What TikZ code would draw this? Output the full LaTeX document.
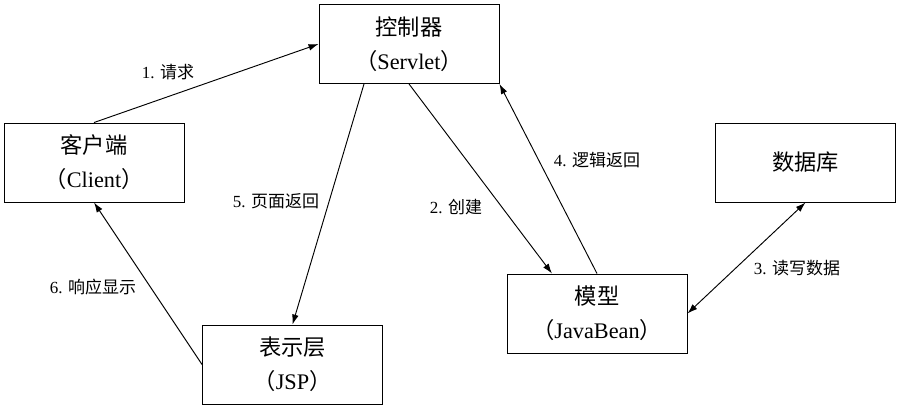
\documentclass[tikz,border=0pt]{standalone}
\usepackage{fontspec}
\setmainfont{Liberation Serif}
\newfontfamily\cjk{Noto Sans CJK SC}
\newcommand{\zh}[1]{{\cjk #1}}
\usetikzlibrary{arrows.meta,positioning}

\begin{document}
\begin{tikzpicture}[
  flow/.style={-{Latex[length=3mm,width=2mm]},line width=0.8pt},
  both/.style={{Latex[length=3mm,width=2mm]}-{Latex[length=3mm,width=2mm]},line width=0.8pt},
  box/.style={draw,line width=0.8pt,minimum width=5.4cm,minimum height=2.37cm,
    align=center,inner sep=0pt,font=\fontsize{19}{29}\selectfont},
  tag/.style={font=\fontsize{14.5}{17}\selectfont}
]
\useasboundingbox (0,0) rectangle (27.06,-12.3);

\node[box] (ctrl) at (12.27,-1.32) {\zh{控制器}\\\zh{（}Servlet\zh{）}};
\node[box] (client) at (2.82,-4.875) {\zh{客户端}\\\zh{（}Client\zh{）}};
\node[box] (db) at (24.165,-4.875) {\zh{数据库}};
\node[box] (jsp) at (8.775,-10.935) {\zh{表示层}\\\zh{（}JSP\zh{）}};
\node[box] (model) at (17.91,-9.405) {\zh{模型}\\\zh{（}JavaBean\zh{）}};

\draw[flow] (client.north) -- (ctrl.west);
\draw[flow] (ctrl.south) -- ([xshift=-1.35cm]model.north);
\draw[both] (model.east) -- (db.south);
\draw[flow] (model.north) -- (ctrl.south east);
\draw[flow] ([xshift=-1.35cm]ctrl.south) -- (jsp.north);
\draw[flow] (jsp.west) -- (client.south);

% step numbers follow the request round trip
\node[tag] (t1) at (5.04,-2.16) {1. \zh{请求}};
\node[tag] (t2) at (13.68,-6.21) {2. \zh{创建}};
\node[tag] (t3) at (23.91,-8.04) {3. \zh{读写数据}};
\node[tag] (t4) at (17.91,-4.8) {4. \zh{逻辑返回}};
\node[tag] (t5) at (8.28,-6.03) {5. \zh{页面返回}};
\node[tag] (t6) at (2.79,-8.61) {6. \zh{响应显示}};
\end{tikzpicture}
\end{document}
